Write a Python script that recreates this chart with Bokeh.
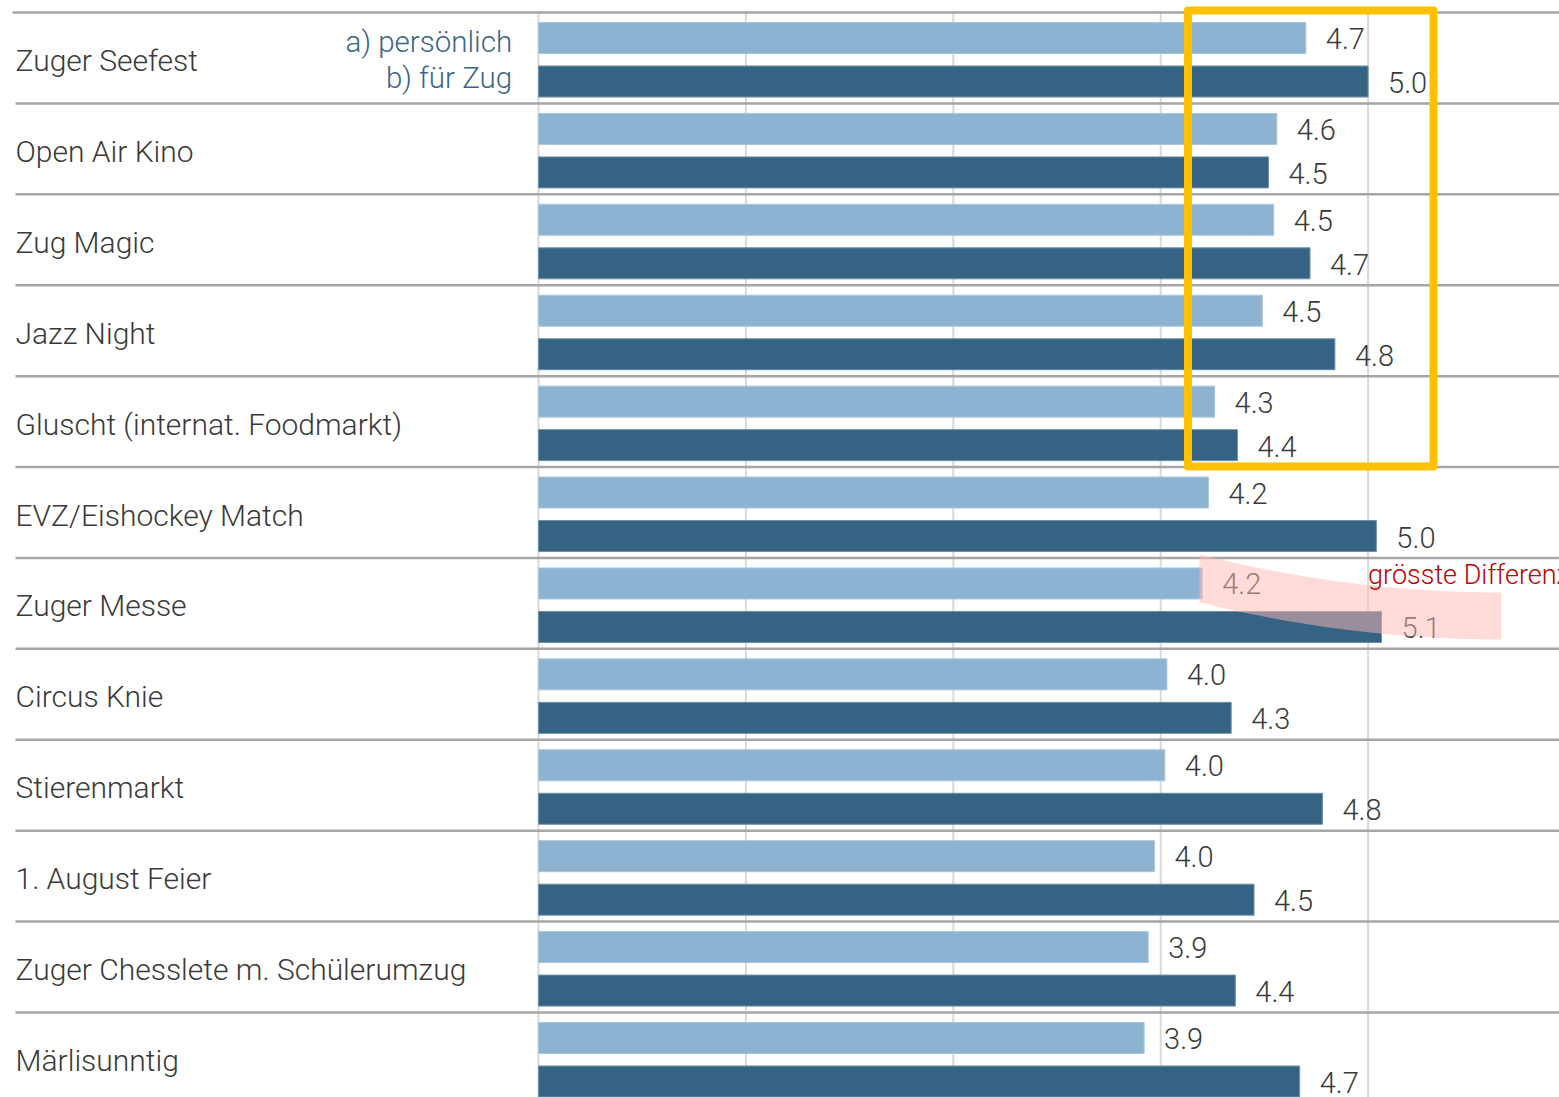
import numpy as np
from bokeh.plotting import figure
from bokeh.models import Range1d, ColumnDataSource
from bokeh.core.properties import value
from bokeh.embed import file_html
from bokeh.resources import INLINE

# ---------------- data ----------------
categories = [
    "Zuger Seefest", "Open Air Kino", "Zug Magic", "Jazz Night",
    "Gluscht (internat. Foodmarkt)", "EVZ/Eishockey Match", "Zuger Messe",
    "Circus Knie", "Stierenmarkt", "1. August Feier",
    "Zuger Chesslete m. Schülerumzug", "Märlisunntig",
]
persoenlich = [4.70, 4.56, 4.545, 4.49, 4.26, 4.23, 4.20, 4.03, 4.02, 3.97, 3.94, 3.92]
fuer_zug = [5.00, 4.52, 4.72, 4.84, 4.37, 5.04, 5.065, 4.34, 4.78, 4.45, 4.36, 4.67]
labels_a = ["4.7", "4.6", "4.5", "4.5", "4.3", "4.2", "4.2", "4.0", "4.0", "4.0", "3.9", "3.9"]
labels_b = ["5.0", "4.5", "4.7", "4.8", "4.4", "5.0", "5.1", "4.3", "4.8", "4.5", "4.4", "4.7"]
grid_ticks = [1, 2, 3, 4, 5]
legend_labels = ["a) persönlich", "b) für Zug"]
note_text = "grösste Differenz"

# ---------------- layout (row units, value units) ----------------
n = len(categories)
rows = np.arange(n)
BASE = 1.0
LIGHT_C, DARK_C, BAR_H = 0.2805, 0.759, 0.341
LBL_A, LBL_B, CAT_B = 0.286, 0.770, 0.528

LIGHT = "#8CB3D1"
DARK = "#366384"
TXT = "#3A3A3A"
FONT = value("Roboto Light, Roboto")

p = figure(
    width=1559, height=1097,
    x_range=Range1d(-1.594, 5.923),
    y_range=Range1d(11.935, -0.132),
    toolbar_location=None, output_backend="svg",
    x_axis_location=None, y_axis_location=None,
    min_border=0, outline_line_color=None,
    background_fill_color="white", border_fill_color="white",
)
p.grid.visible = False

# vertical gridlines
p.segment(x0=grid_ticks, y0=[0] * len(grid_ticks), x1=grid_ticks, y1=[n] * len(grid_ticks),
          line_color="#D9D9D9", line_width=2)

# row separators
sep_x0 = [-1.536] + [-1.5217] * (n - 1)
p.segment(x0=sep_x0, y0=list(rows), x1=[6.0] * n, y1=list(rows),
          line_color="#A6A6A6", line_width=2.5)

src = ColumnDataSource(dict(
    cat=categories, a=persoenlich, b=fuer_zug, la=labels_a, lb=labels_b,
    ya=rows + LIGHT_C, yb=rows + DARK_C,
    ta=rows + LBL_A, tb=rows + LBL_B, tc=rows + CAT_B,
    base=[BASE] * n, cx=[-1.5217] * n,
))

p.hbar(y="ya", left="base", right="a", height=BAR_H, source=src,
       fill_color=LIGHT, line_color="#A9C6DC", line_width=1)
p.hbar(y="yb", left="base", right="b", height=BAR_H, source=src,
       fill_color=DARK, line_color="#6F90A9", line_width=1)

p.text(x="a", y="ta", text="la", source=src, x_offset=20,
       text_font=FONT, text_font_size="29px", text_color=TXT,
       text_baseline="alphabetic", text_align="left")
p.text(x="b", y="tb", text="lb", source=src, x_offset=20,
       text_font=FONT, text_font_size="29px", text_color=TXT,
       text_baseline="alphabetic", text_align="left")

# category labels
p.text(x="cx", y="tc", text="cat", source=src,
       text_font=FONT, text_font_size="30px", text_color=TXT,
       text_baseline="alphabetic", text_align="left")

# legend text
p.text(x=[0.873, 0.873], y=[0.325, 0.724], text=legend_labels,
       text_font=FONT, text_font_size="29.5px", text_color="#3C6688",
       text_baseline="alphabetic", text_align="right")

# pink swoosh annotation (Zuger Messe)
t = np.linspace(0, 1, 40)
sx0, sx1 = 4.187, 5.643
top_y = 5.962 + (6.380 - 5.962) * (1 - (1 - t) ** 2)
bot_y = 6.490 + (6.897 - 6.490) * (1 - (1 - t) ** 2)
xs_top = sx0 + (sx1 - sx0) * t
px = np.concatenate([xs_top, xs_top[::-1]])
py = np.concatenate([top_y, bot_y[::-1]])
p.patch(px, py, fill_color="#FFB9B4", fill_alpha=0.5, line_color=None)

p.text(x=[5.0], y=[6.19], text=[note_text],
       text_font=FONT, text_font_size="27px", text_color="#C00000",
       text_baseline="alphabetic", text_align="left")

# yellow highlight box
p.quad(left=[4.1316], right=[5.3154], top=[-0.022], bottom=[4.994],
       fill_color=None, line_color="#FFC000", line_width=8, line_join="round")

open("out.html", "w").write(file_html(p, INLINE))
